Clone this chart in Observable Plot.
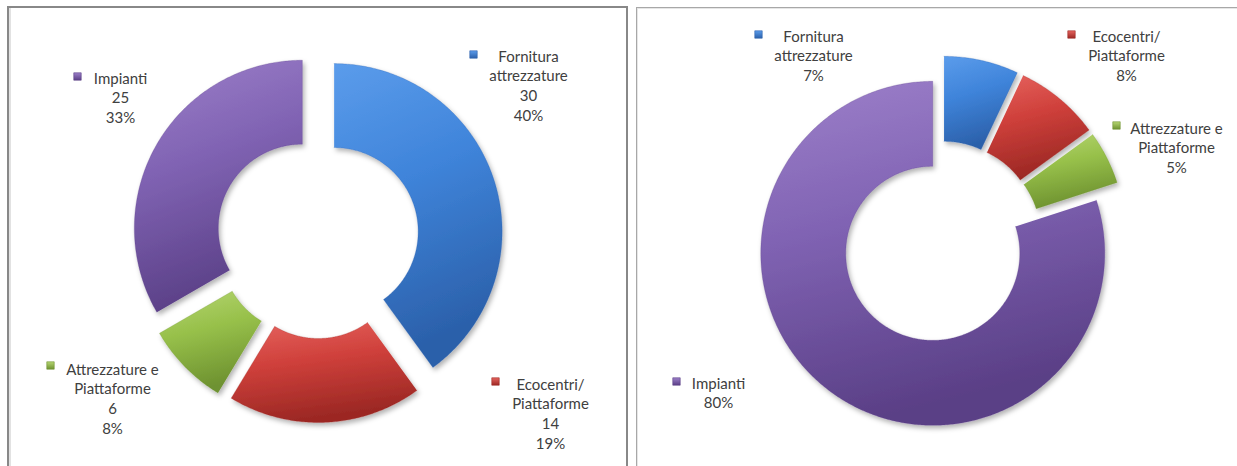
<!DOCTYPE html>
<html><head><meta charset="utf-8">
<script src="https://cdn.jsdelivr.net/npm/d3@7"></script>
<script src="https://cdn.jsdelivr.net/npm/@observablehq/plot@0.6"></script>
<style>
body{margin:0;background:#fff;}
#wrap{position:relative;width:1237px;height:466px;overflow:hidden;background:#fff;}
.panel{position:absolute;box-sizing:border-box;}
#p1{left:7px;top:6px;width:621px;height:480px;border:2px solid #888;border-bottom:none;box-shadow:inset 2px 0 0 #e2e2e2;}
#p2{left:636px;top:7px;width:620px;height:480px;border:1px solid #a8a8a8;box-shadow:inset 1px 1px 0 #e6e6e6;}
#chart{position:absolute;left:0;top:0;}
</style></head><body>
<div id="wrap"><div class="panel" id="p1"></div><div class="panel" id="p2"></div><div id="chart"></div></div>
<script>
// ---- data ----
const categories = ["Fornitura attrezzature", "Ecocentri/ Piattaforme", "Attrezzature e Piattaforme", "Impianti"];
const categoryLines = [["Fornitura", "attrezzature"], ["Ecocentri/", "Piattaforme"], ["Attrezzature e", "Piattaforme"], ["Impianti"]];
const leftValues = [30, 14, 6, 25];
const leftPercents = ["40%", "19%", "8%", "33%"];
const rightValues = [7, 8, 5, 80];
const rightPercents = ["7%", "8%", "5%", "80%"];

// ---- layout / style (not data) ----
const palette = [
  ["#5b9ceb", "#3f84da", "#2b60aa"],
  ["#e6645f", "#cf403b", "#9c2824"],
  ["#b6d672", "#97c04a", "#6e9230"],
  ["#9d80ca", "#8063b3", "#5a3f86"]
];
const layout = {
  left: {cx: 317, cy: 236.5, R: 168, r: 84, explode: 17.5,
    labels: [{x: 528, y: 55, kx: 473, ky: 54}, {x: 550, y: 383, kx: 495, ky: 381},
             {x: 112, y: 368, kx: 50, ky: 365}, {x: 120, y: 77, kx: 77, ky: 76}]},
  right: {cx: 940.5, cy: 241.5, R: 172, r: 87, explode: 14,
    labels: [{x: 813, y: 35, kx: 758, ky: 34}, {x: 1126, y: 35, kx: 1071, ky: 34},
             {x: 1176, y: 127, kx: 1116, ky: 125}, {x: 718, y: 382, kx: 676, ky: 381}]}
};

function slicePolygons(values, L, tag) {
  const arcs = d3.pie().sort(null).value(d => d)(values);
  return arcs.map((a, i) => {
    const mid = (a.startAngle + a.endAngle) / 2;
    const ox = L.explode * Math.sin(mid), oy = -L.explode * Math.cos(mid);
    const n = Math.max(10, Math.ceil((a.endAngle - a.startAngle) / 0.01));
    const pts = [];
    for (let k = 0; k <= n; k++) {
      const t = a.startAngle + (a.endAngle - a.startAngle) * k / n;
      pts.push({x: L.cx + ox + L.R * Math.sin(t), y: L.cy + oy - L.R * Math.cos(t), key: tag + i});
    }
    for (let k = n; k >= 0; k--) {
      const t = a.startAngle + (a.endAngle - a.startAngle) * k / n;
      pts.push({x: L.cx + ox + L.r * Math.sin(t), y: L.cy + oy - L.r * Math.cos(t), key: tag + i});
    }
    return {i, pts};
  });
}

function labelRows(L, extra) {
  return categories.map((c, i) => ({
    i, x: L.labels[i].x, y: L.labels[i].y - 8, kx: L.labels[i].kx, ky: L.labels[i].ky,
    text: [...categoryLines[i], ...extra.map(arr => arr[i])].join("\n")
  }));
}

const leftSlices = slicePolygons(leftValues, layout.left, "L");
const rightSlices = slicePolygons(rightValues, layout.right, "R");
const leftLabels = labelRows(layout.left, [leftValues.map(String), leftPercents]);
const rightLabels = labelRows(layout.right, [rightPercents]);

const sliceMarks = [...leftSlices, ...rightSlices].map(s =>
  Plot.line(s.pts, {x: "x", y: "y", fill: `url(#g${s.i})`, stroke: palette[s.i][2], strokeOpacity: 0.35, strokeWidth: 0.8, curve: "linear"})
);
const allLabels = [...leftLabels, ...rightLabels];
const keyMarks = [0, 1, 2, 3].map(i =>
  Plot.dot(allLabels.filter(d => d.i === i), {x: "kx", y: "ky", symbol: "square", r: 4.2, fill: `url(#k${i})`, stroke: palette[i][2], strokeWidth: 0.6})
);

const plot = Plot.plot({
  width: 1237, height: 466,
  margin: 0,
  x: {domain: [0, 1237], range: [0, 1237], axis: null},
  y: {domain: [0, 466], range: [0, 466], axis: null},
  style: {background: "transparent", fontFamily: "Lato, 'Open Sans', sans-serif"},
  marks: [
    ...sliceMarks,
    ...keyMarks,
    Plot.text(allLabels, {x: "x", y: "y", text: "text", lineAnchor: "top", lineHeight: 1.32, textAnchor: "middle", fontSize: 15, fill: "#404040"})
  ]
});

// gradients + shadow
const svg = d3.select(plot);
const defs = svg.insert("defs", ":first-child");
palette.forEach((p, i) => {
  const g = defs.append("linearGradient").attr("id", "g" + i).attr("x1", 0).attr("y1", 0).attr("x2", 0.25).attr("y2", 1);
  g.append("stop").attr("offset", "0%").attr("stop-color", p[0]);
  g.append("stop").attr("offset", "45%").attr("stop-color", p[1]);
  g.append("stop").attr("offset", "100%").attr("stop-color", p[2]);
  const k = defs.append("linearGradient").attr("id", "k" + i).attr("x1", 0).attr("y1", 0).attr("x2", 0).attr("y2", 1);
  k.append("stop").attr("offset", "0%").attr("stop-color", p[0]);
  k.append("stop").attr("offset", "100%").attr("stop-color", p[2]);
});
const f = defs.append("filter").attr("id", "shadow").attr("x", "-10%").attr("y", "-10%").attr("width", "130%").attr("height", "130%");
f.append("feDropShadow").attr("dx", 2).attr("dy", 3).attr("stdDeviation", 2.5).attr("flood-color", "#000").attr("flood-opacity", 0.3);
svg.selectAll("g[aria-label='line']").attr("filter", "url(#shadow)");

document.getElementById("chart").appendChild(plot);
</script>
</body></html>
